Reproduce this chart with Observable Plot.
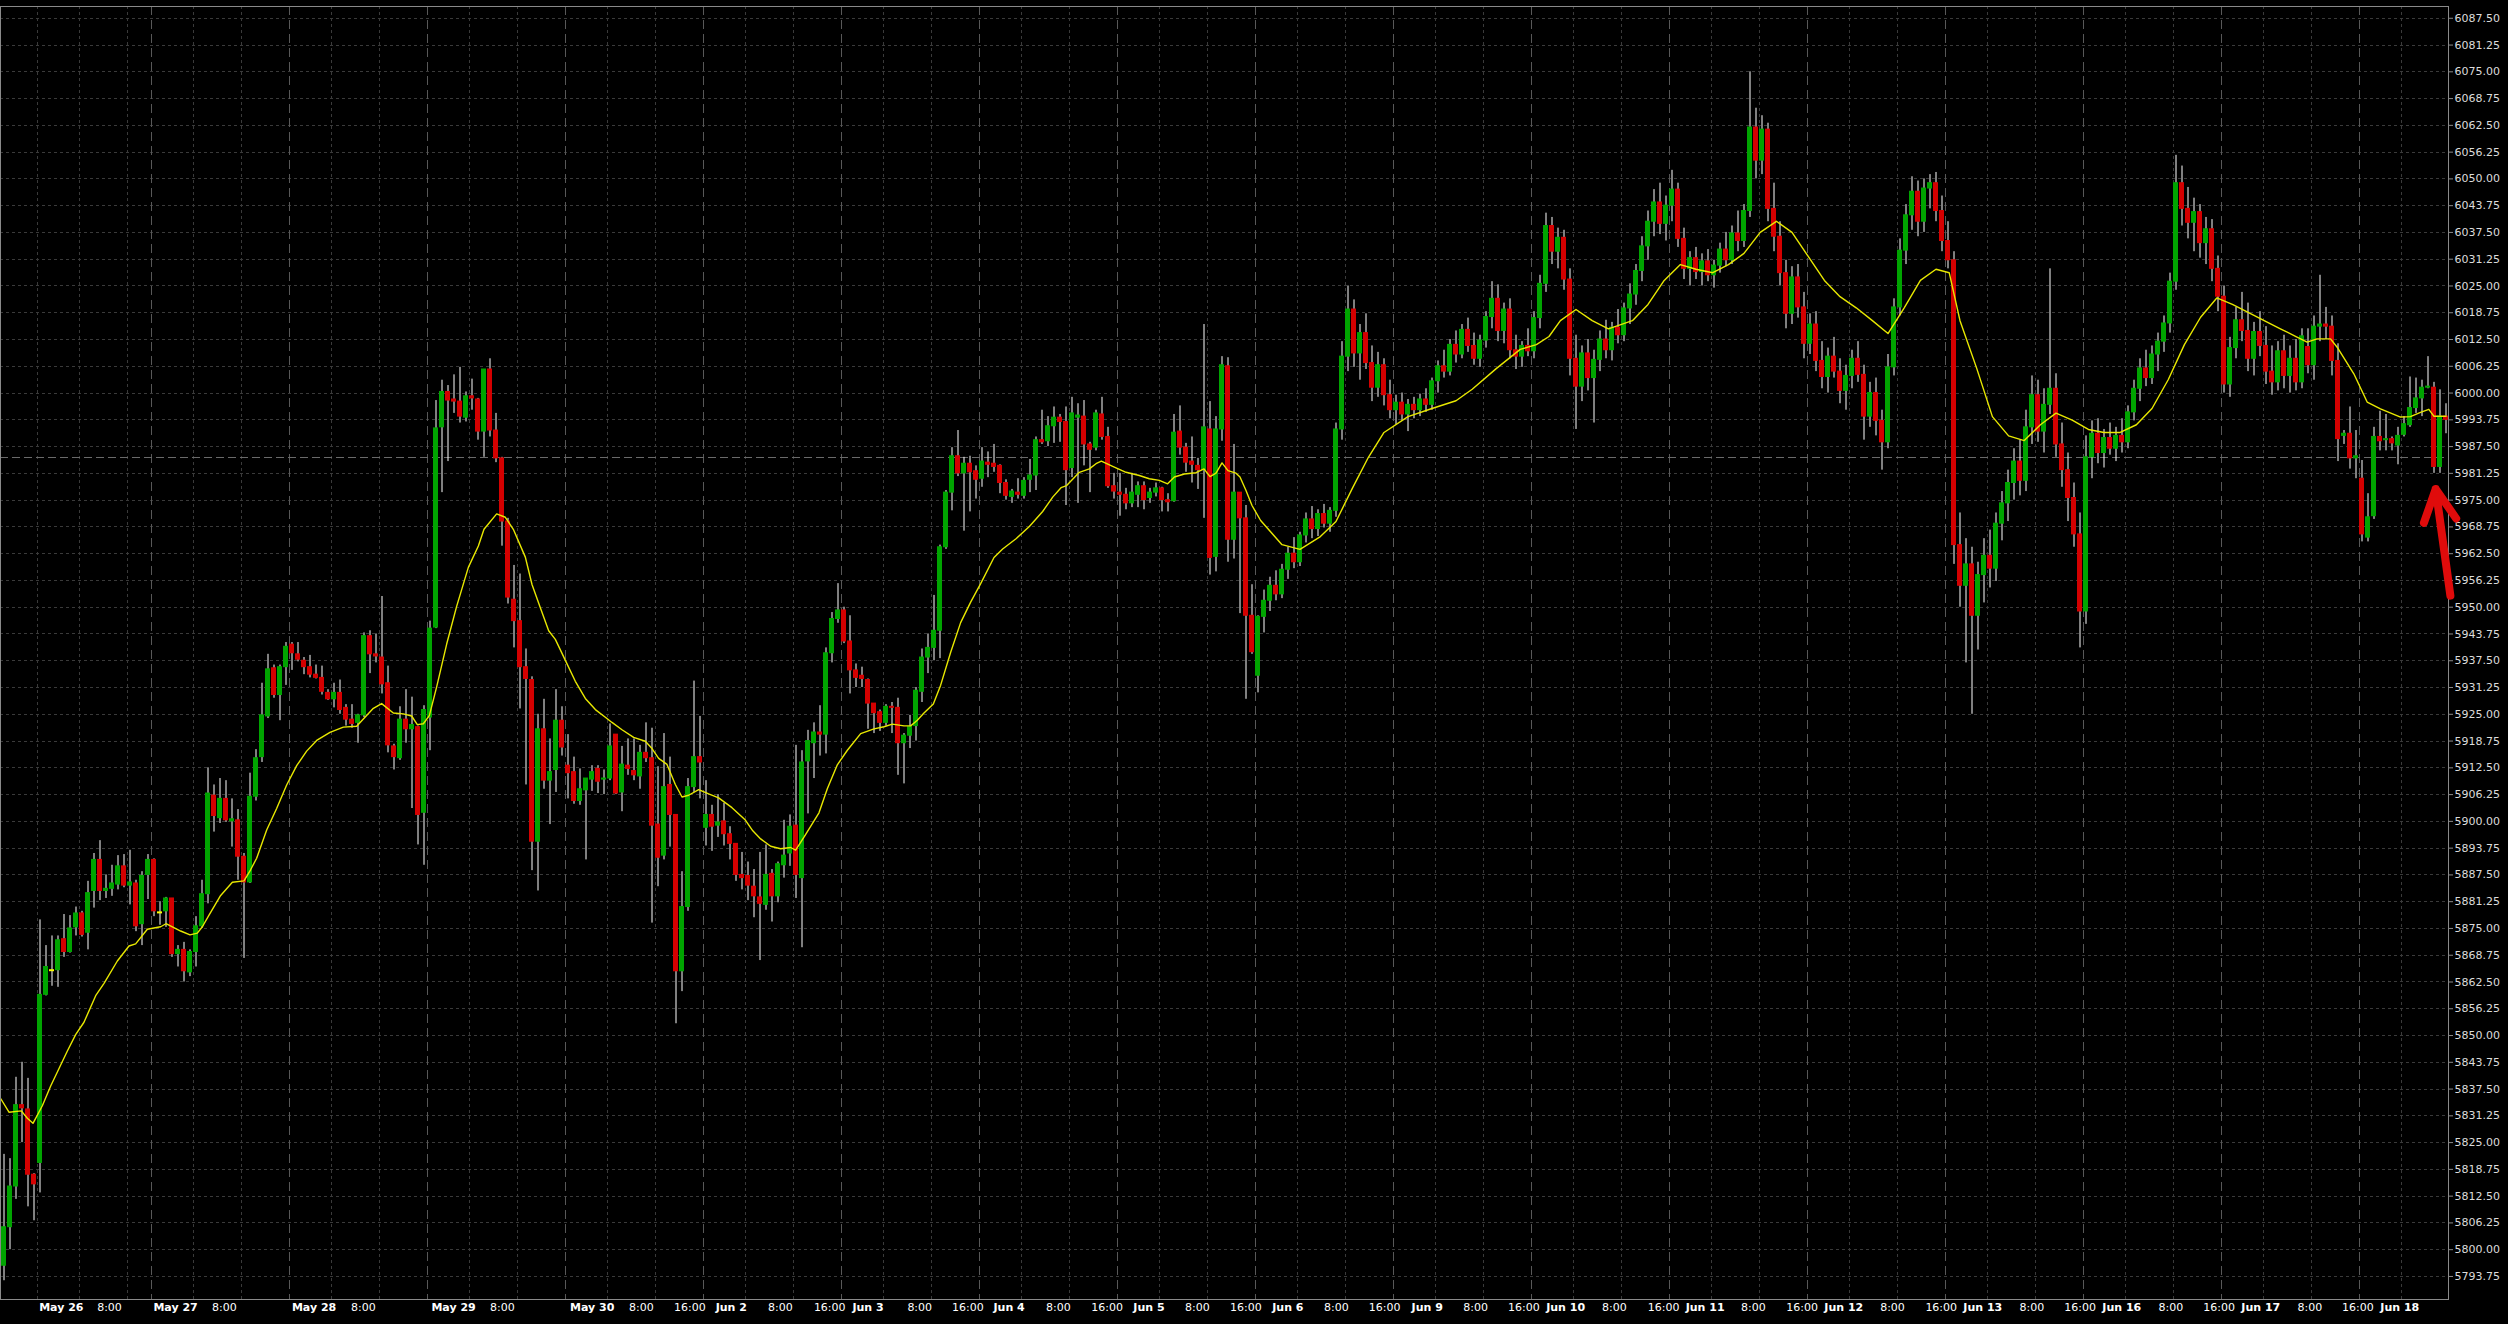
<!DOCTYPE html>
<html><head><meta charset="utf-8">
<script src="https://cdn.jsdelivr.net/npm/d3@7"></script>
<script src="https://cdn.jsdelivr.net/npm/@observablehq/plot@0.6"></script>
<style>
html,body{margin:0;padding:0;background:#000;overflow:hidden}
#chart{width:2508px;height:1324px}
</style></head><body><div id="chart"></div>
<script>
const opens = [
5796.25,5805.25,5814.75,5833.75,5832.75,5817.5,5820.25,5859.5,5865.25,5865.25,
5872.5,5869.5,5875.25,5878.5,5874.0,5883.75,5891.0,5883.75,5884.25,5885.25,
5889.5,5885.0,5885.5,5876.0,5887.5,5891.0,5878.75,5879.0,5882.0,5869.0,
5870.0,5864.75,5869.5,5875.5,5883.0,5906.0,5900.75,5905.25,5900.0,5900.25,
5891.75,5885.75,5905.75,5915.0,5924.5,5935.75,5929.5,5936.0,5941.25,5939.0,
5937.5,5936.0,5934.25,5933.5,5930.0,5928.5,5930.0,5926.5,5923.75,5923.0,
5924.75,5943.25,5939.0,5938.25,5932.25,5917.5,5914.75,5923.75,5921.5,5922.0,
5902.0,5924.25,5945.25,5992.0,6000.25,5998.5,5998.0,5994.25,5999.25,5998.5,
5991.0,6005.5,5991.25,5984.75,5970.0,5951.75,5946.75,5936.0,5933.0,5895.25,
5921.5,5909.5,5912.0,5923.5,5913.0,5911.5,5904.75,5907.25,5909.75,5912.25,
5909.75,5910.0,5920.25,5906.75,5913.0,5911.75,5910.5,5916.0,5914.75,5899.25,
5892.0,5908.5,5901.5,5865.0,5880.0,5908.0,5915.0,5898.5,5901.5,5899.0,
5900.0,5897.0,5894.75,5887.5,5887.25,5884.75,5882.25,5880.5,5887.75,5882.5,
5889.75,5892.5,5899.0,5886.75,5914.0,5918.25,5920.75,5920.25,5939.25,5947.25,
5949.25,5942.0,5935.25,5934.0,5933.0,5927.5,5925.5,5923.0,5926.75,5926.5,
5918.25,5920.0,5922.25,5930.25,5938.25,5940.5,5944.5,5964.0,5976.75,5985.25,
5981.25,5983.5,5981.75,5980.0,5983.75,5983.5,5983.0,5979.0,5975.75,5976.75,
5976.0,5979.75,5980.75,5989.0,5988.75,5992.25,5994.25,5993.25,5982.5,5994.25,
5994.5,5988.0,5987.25,5995.0,5989.75,5978.25,5976.75,5976.25,5974.25,5976.25,
5978.25,5975.5,5976.75,5977.75,5975.0,5974.75,5991.0,5987.25,5984.0,5983.0,
5982.0,5991.5,5961.75,5991.5,6006.25,5965.75,5976.75,5970.75,5948.0,5934.0,
5947.75,5951.5,5955.0,5953.0,5958.75,5962.5,5960.5,5966.75,5970.5,5968.25,
5971.75,5969.5,5972.5,5991.5,6008.5,6019.5,6009.25,6014.0,6007.0,6001.25,
6006.5,5999.5,5996.0,5997.75,5995.0,5997.25,5996.0,5998.5,5997.25,6002.75,
6006.25,6005.0,6011.25,6009.0,6014.75,6011.0,6008.0,6012.25,6017.75,6022.0,
6014.5,6019.5,6010.0,6008.5,6011.0,6009.75,6017.5,6025.5,6039.0,6033.0,
6036.25,6026.5,6008.0,6001.5,6009.25,6003.5,6007.75,6012.5,6010.0,6015.25,
6013.5,6019.75,6023.0,6028.5,6034.25,6040.0,6044.5,6039.5,6043.75,6047.5,
6036.0,6029.0,6031.5,6028.25,6030.75,6027.5,6029.75,6033.5,6031.0,6037.25,
6035.5,6042.5,6062.0,6054.25,6061.5,6043.0,6036.5,6028.0,6018.5,6027.0,
6020.0,6011.5,6016.0,6007.5,6003.75,6008.5,6005.0,6000.5,6004.0,6008.0,
6004.25,5994.5,6000.0,5993.5,5988.5,6006.0,6020.0,6033.25,6041.5,6047.0,
6040.0,6047.75,6049.0,6042.5,6035.5,6031.0,5964.5,5955.0,5960.0,5948.0,
5957.5,5962.0,5959.0,5969.5,5974.25,5979.0,5984.0,5979.5,5992.0,5999.5,
5991.0,5997.25,6001.0,5988.0,5982.0,5975.5,5967.0,5949.0,5985.0,5990.5,
5986.0,5989.5,5987.0,5990.0,5988.5,5995.5,6001.0,6005.75,6003.5,6009.0,
6012.0,6016.25,6026.0,6049.0,6043.0,6039.75,6042.25,6035.0,6038.25,6029.0,
6022.5,6002.0,6010.5,6017.0,6014.5,6008.0,6014.25,6011.0,6005.0,6002.5,
6009.75,6004.0,6008.0,6002.5,6010.75,6006.5,6015.5,6016.0,6015.5,6007.5,
5990.0,5990.5,5984.75,5980.0,5966.25,5971.25,5989.75,5989.0,5989.25,5987.75,
5990.25,5992.5,5996.5,5998.75,6001.25,6001.25,5982.75,5994.5
];
const highs = [
5822.25,5821.25,5840.25,5843.75,5840.0,5817.75,5877.0,5871.0,5873.25,5873.25,
5878.25,5878.0,5880.0,5879.0,5886.0,5892.5,5895.5,5887.5,5889.75,5892.0,
5892.25,5893.25,5886.25,5888.25,5892.25,5891.25,5881.25,5882.25,5882.0,5871.0,
5871.75,5870.0,5877.75,5886.25,5912.5,5908.5,5910.0,5909.5,5905.25,5902.75,
5892.5,5911.25,5916.75,5932.25,5939.0,5936.5,5936.5,5941.75,5941.75,5941.75,
5938.25,5938.75,5936.5,5936.25,5930.75,5932.25,5933.0,5927.25,5927.25,5925.0,
5944.0,5944.5,5943.75,5952.5,5936.25,5918.0,5926.75,5930.75,5929.0,5922.25,
5927.0,5946.75,5998.25,6003.0,6001.75,6004.25,6006.0,6000.25,6003.25,5998.75,
6005.5,6008.0,5995.25,5985.0,5970.75,5959.75,5957.75,5940.25,5933.75,5925.0,
5928.5,5919.25,5930.75,5926.75,5920.25,5915.0,5912.25,5910.0,5913.0,5913.0,
5912.0,5922.75,5920.25,5917.5,5919.25,5919.25,5917.75,5923.0,5921.75,5912.75,
5920.5,5915.0,5901.5,5888.25,5910.0,5932.75,5924.5,5909.5,5903.75,5906.25,
5904.25,5898.75,5894.75,5892.75,5890.5,5888.75,5892.75,5894.5,5888.75,5890.5,
5900.25,5901.5,5917.75,5916.5,5921.25,5923.0,5927.0,5940.5,5948.75,5955.5,
5950.0,5948.0,5936.75,5936.0,5933.25,5927.5,5926.0,5927.25,5927.75,5928.75,
5920.5,5924.75,5931.25,5940.25,5943.75,5952.75,5964.5,5977.25,5987.25,5991.25,
5985.0,5985.25,5983.0,5987.25,5986.25,5988.0,5983.25,5979.75,5977.5,5980.0,
5980.25,5984.5,5989.75,5996.0,5994.5,5996.75,5995.0,5996.75,5999.0,5997.5,
5998.25,5988.5,5996.0,5999.0,5992.0,5981.25,5981.25,5977.75,5981.25,5979.25,
5979.25,5977.75,5979.0,5978.0,5976.5,5995.0,5997.0,5988.25,5989.75,5984.75,
6016.0,5998.0,5994.5,6008.5,6008.25,5988.0,5976.75,5973.75,5955.25,5948.0,
5954.0,5957.0,5958.5,5960.0,5964.0,5966.25,5967.5,5972.0,5973.5,5972.75,
5974.0,5973.25,5993.0,6012.0,6025.0,6021.75,6016.0,6018.5,6011.0,6009.5,
6008.0,6003.0,5999.5,6000.0,5998.5,5999.0,5999.75,6001.0,6003.5,6007.5,
6010.0,6012.5,6014.5,6016.0,6017.5,6014.0,6013.5,6019.0,6026.0,6025.25,
6021.0,6022.0,6013.5,6012.0,6015.0,6019.0,6027.5,6042.0,6041.0,6038.5,
6038.0,6029.0,6013.5,6011.0,6012.5,6010.0,6014.5,6017.0,6016.5,6019.5,
6021.0,6025.5,6030.0,6036.5,6042.5,6047.5,6049.0,6046.0,6052.0,6049.0,
6038.5,6033.0,6034.0,6032.5,6033.5,6031.0,6035.0,6037.5,6039.0,6042.5,
6044.0,6075.0,6066.5,6064.75,6063.0,6049.0,6040.0,6031.0,6029.5,6030.0,
6023.5,6018.5,6019.0,6012.0,6010.5,6013.0,6008.0,6006.5,6010.0,6012.0,
6006.5,6002.5,6003.5,5996.0,6009.0,6022.0,6036.0,6044.0,6050.5,6049.5,
6050.0,6051.0,6051.5,6046.0,6040.0,6033.0,5972.0,5966.0,5964.0,5960.5,
5966.0,5968.0,5972.0,5977.0,5982.0,5987.0,5989.0,5996.0,6004.0,6003.0,
6001.0,6029.0,6004.5,5993.0,5986.0,5979.0,5972.0,5990.0,5993.5,5994.0,
5991.5,5993.0,5992.0,5994.0,5997.0,6003.0,6008.0,6010.0,6011.0,6014.0,
6018.0,6028.0,6055.5,6053.0,6048.0,6045.5,6044.0,6041.0,6040.5,6032.0,
6025.0,6013.0,6020.0,6023.5,6021.0,6016.5,6019.0,6015.5,6011.0,6012.0,
6013.5,6011.0,6012.5,6015.0,6015.0,6018.0,6027.5,6020.0,6018.0,6011.5,
5991.25,5996.75,5991.25,5984.25,5976.5,5992.0,5995.75,5995.0,5989.75,5992.0,
5994.5,6003.75,6003.5,6003.0,6008.5,6002.5,6000.75,5997.5
];
const lows = [
5792.75,5800.0,5811.75,5825.0,5810.0,5806.75,5813.25,5859.25,5861.5,5861.25,
5868.25,5869.25,5873.25,5873.0,5870.0,5879.75,5881.5,5882.0,5882.5,5884.0,
5884.5,5880.5,5874.25,5871.0,5881.75,5877.75,5875.75,5875.25,5868.25,5866.0,
5862.5,5863.75,5866.0,5875.0,5880.75,5897.5,5899.5,5899.75,5894.0,5886.25,
5868.0,5885.5,5904.75,5913.75,5924.0,5928.75,5923.5,5931.75,5935.25,5937.25,
5934.25,5933.5,5933.25,5929.5,5928.25,5926.5,5925.0,5922.25,5921.75,5918.25,
5924.25,5934.5,5937.0,5929.75,5916.0,5912.0,5914.25,5918.25,5903.0,5894.5,
5889.75,5916.5,5945.0,5976.75,5984.0,5995.25,5993.0,5993.25,5996.0,5989.0,
5985.0,5989.75,5983.75,5964.25,5950.75,5940.5,5926.25,5908.5,5888.5,5883.75,
5907.5,5899.25,5906.75,5915.25,5905.25,5904.0,5903.75,5891.0,5907.0,5906.5,
5906.25,5909.5,5906.25,5902.25,5910.75,5909.5,5907.5,5913.75,5876.25,5884.75,
5891.0,5894.0,5852.75,5860.25,5879.0,5906.75,5905.25,5894.25,5893.0,5896.25,
5894.25,5891.0,5886.0,5884.0,5881.5,5877.5,5867.5,5879.25,5876.5,5881.0,
5886.75,5889.5,5882.0,5870.5,5901.75,5910.0,5915.25,5915.75,5937.0,5946.25,
5941.5,5929.75,5931.25,5931.25,5921.5,5920.5,5921.0,5922.25,5920.5,5910.75,
5908.75,5917.0,5918.75,5927.75,5934.5,5937.5,5938.0,5963.5,5972.5,5980.5,
5967.75,5972.25,5975.25,5978.0,5980.25,5981.5,5976.5,5975.0,5974.25,5975.25,
5975.25,5976.75,5977.25,5988.0,5987.5,5988.25,5988.5,5973.75,5980.25,5974.25,
5983.0,5976.75,5986.5,5989.0,5977.75,5975.25,5971.25,5972.75,5973.25,5973.25,
5972.75,5974.25,5975.75,5972.25,5972.25,5974.5,5985.5,5981.5,5979.0,5977.5,
5970.75,5957.5,5958.25,5988.75,5960.5,5961.25,5948.5,5928.5,5939.0,5930.0,
5944.0,5949.0,5951.5,5952.0,5956.5,5959.0,5959.5,5965.0,5966.0,5966.5,
5968.5,5967.5,5971.0,5989.0,6005.0,6006.0,6003.0,6005.5,5998.0,5999.0,
5997.0,5994.0,5992.5,5993.5,5991.0,5994.0,5994.5,5995.5,5996.0,6000.0,
6003.5,6004.0,6007.0,6008.0,6009.5,6006.5,6006.0,6010.5,6015.0,6012.0,
6011.5,6008.0,6005.5,6006.0,6008.5,6008.0,6015.0,6023.5,6030.0,6029.0,
6024.0,6004.0,5991.5,5998.0,6000.5,5993.0,6005.0,6008.0,6007.5,6011.5,
6012.0,6016.0,6020.5,6026.0,6031.0,6036.5,6037.0,6035.5,6040.0,6034.0,
6026.5,6025.0,6026.5,6025.0,6026.0,6024.5,6028.0,6029.5,6030.0,6033.0,
6034.0,6041.0,6050.0,6051.0,6040.0,6033.0,6025.0,6015.0,6016.0,6017.5,
6008.0,6009.0,6005.0,6001.0,6000.0,6003.5,5997.5,5996.0,6001.0,6002.5,
5989.0,5992.0,5990.0,5982.0,5987.0,6004.0,6018.0,6030.0,6038.0,6036.5,
6037.5,6043.0,6040.0,6033.0,6029.0,5960.0,5950.0,5937.0,5925.0,5940.0,
5951.0,5954.5,5956.0,5965.5,5970.0,5975.0,5976.0,5977.0,5988.0,5988.5,
5986.0,5995.0,5985.0,5978.0,5970.0,5964.0,5940.5,5946.0,5980.0,5983.5,
5982.5,5985.5,5984.0,5986.0,5987.0,5993.5,5998.0,6001.5,6002.0,6005.0,
6009.5,6014.0,6024.0,6039.0,6036.0,6033.0,6031.5,6030.0,6026.0,6019.0,
6000.0,5999.0,6008.0,6012.0,6005.0,6004.0,6008.5,6002.0,5999.5,6000.5,
6001.0,6000.0,6000.5,6001.0,6004.5,6003.0,6012.0,6012.5,6004.0,5984.0,
5988.0,5982.25,5980.0,5965.25,5965.25,5970.5,5986.5,5986.5,5986.5,5983.25,
5989.75,5992.0,5995.25,5994.5,6001.0,5981.25,5981.25,5990.5
];
const closes = [
5805.25,5814.75,5833.75,5833.0,5817.5,5815.25,5859.5,5866.0,5865.25,5872.25,
5869.5,5875.0,5878.5,5873.5,5883.25,5891.0,5883.75,5884.25,5885.5,5889.5,
5885.0,5885.75,5875.5,5887.25,5891.0,5879.0,5878.75,5882.0,5869.0,5870.0,
5865.0,5869.5,5875.5,5883.0,5906.5,5901.25,5905.25,5900.25,5900.5,5891.75,
5885.75,5905.75,5914.75,5924.75,5935.5,5929.5,5936.0,5940.75,5939.25,5937.75,
5936.0,5934.25,5933.5,5930.25,5928.5,5930.0,5926.0,5923.75,5922.75,5924.75,
5943.25,5939.0,5938.5,5932.0,5917.75,5915.0,5923.75,5921.5,5922.5,5901.5,
5926.0,5945.0,5991.75,6000.25,5998.25,5998.0,5994.5,5999.25,5998.75,5991.0,
6005.5,5991.25,5984.75,5970.0,5952.25,5946.75,5936.0,5933.25,5895.25,5921.5,
5909.5,5911.5,5923.5,5917.25,5911.25,5904.75,5907.5,5910.0,5911.5,5909.25,
5910.0,5917.5,5906.5,5913.25,5912.25,5910.75,5916.0,5914.75,5899.0,5891.5,
5908.0,5901.5,5865.0,5880.0,5908.0,5915.0,5913.75,5901.5,5898.75,5899.75,
5897.0,5894.75,5887.5,5886.75,5885.0,5882.5,5880.75,5887.5,5882.5,5890.0,
5892.0,5898.75,5887.5,5913.75,5918.75,5920.75,5920.25,5939.25,5947.25,5949.25,
5942.0,5935.25,5933.5,5933.25,5927.5,5925.25,5923.0,5926.75,5926.5,5918.25,
5920.0,5922.0,5930.5,5938.25,5940.5,5944.5,5964.0,5976.75,5985.25,5981.25,
5983.5,5981.5,5979.75,5984.0,5983.25,5982.75,5979.0,5976.0,5977.0,5976.25,
5979.5,5980.75,5989.0,5988.5,5992.25,5994.25,5993.25,5982.0,5995.25,5994.75,
5988.0,5986.75,5995.25,5989.75,5978.25,5977.0,5976.25,5974.25,5976.75,5978.25,
5975.0,5976.75,5977.75,5975.0,5974.5,5990.75,5987.25,5983.75,5983.25,5982.0,
5992.0,5961.5,5991.5,6006.5,5965.75,5976.75,5970.75,5948.0,5939.5,5947.75,
5951.5,5955.0,5953.0,5958.75,5962.5,5960.5,5966.75,5970.5,5968.25,5971.75,
5969.5,5972.5,5991.5,6008.5,6019.5,6009.25,6014.0,6007.0,6001.25,6006.5,
5999.5,5996.0,5997.75,5995.0,5997.25,5996.0,5998.5,5997.25,6002.75,6006.25,
6005.0,6011.25,6009.0,6014.75,6011.0,6008.0,6012.25,6017.75,6022.0,6014.5,
6019.5,6010.0,6008.5,6011.0,6009.75,6017.5,6025.5,6039.0,6033.0,6036.25,
6026.5,6008.0,6001.5,6009.25,6003.5,6007.75,6012.5,6010.0,6015.25,6013.5,
6019.75,6023.0,6028.5,6034.25,6040.0,6044.5,6039.5,6043.75,6047.5,6036.0,
6029.0,6031.5,6028.25,6030.75,6027.5,6029.75,6033.5,6031.0,6037.25,6035.5,
6042.5,6062.0,6054.25,6061.5,6043.0,6036.5,6028.0,6018.5,6027.0,6020.0,
6011.5,6016.0,6007.5,6003.75,6008.5,6005.0,6000.5,6004.0,6008.0,6004.25,
5994.5,6000.0,5993.5,5988.5,6006.0,6020.0,6033.25,6041.5,6047.0,6040.0,
6047.75,6049.0,6042.5,6035.5,6031.0,5964.5,5955.0,5960.0,5948.0,5957.5,
5962.0,5959.0,5969.5,5974.25,5979.0,5984.0,5979.5,5992.0,5999.5,5991.0,
5997.25,6001.0,5988.0,5982.0,5975.5,5967.0,5949.0,5985.0,5990.5,5986.0,
5989.5,5987.0,5990.0,5988.5,5995.5,6001.0,6005.75,6003.5,6009.0,6012.0,
6016.25,6026.0,6049.0,6043.0,6039.75,6042.25,6035.0,6038.25,6029.0,6022.5,
6002.0,6010.5,6017.0,6014.5,6008.0,6014.25,6011.0,6005.0,6002.5,6009.75,
6004.0,6008.0,6002.5,6013.25,6006.5,6015.5,6016.0,6015.5,6007.5,5989.25,
5990.5,5984.75,5985.25,5967.0,5971.0,5989.75,5988.75,5989.25,5988.25,5990.0,
5992.75,5996.5,5998.75,6001.25,6001.5,5982.75,5994.5,5993.75
];
// moving average line (bar index, price)
const maIndex = [-0.56,0.83,2.89,3.89,4.83,6.39,7.78,9.17,10.56,11.94,13.33,15.28,16.67,18.89,20.83,21.94,23.89,26.11,27,29.44,31,32.22,33.06,34.17,36.11,38.06,40,41.1,
42.11,43.78,45.44,47.11,48.78,50.44,52.11,54.33,56.56,58.78,59.89,61.56,62.94,64.89,66.56,67.94,68.89,69.89,70.89,72.11,73.78,75.44,77.39,79.06,80,82.11,
83.56,84.94,86.89,88,89.39,90.78,91.89,93.56,95.22,96.89,98.56,100.22,101.33,103,104.94,106.89,108,109.11,110.5,111.89,113,114.11,115.78,117.44,119.11,121.33,123.56,124.8,
126.11,127.78,129.44,131.11,131.94,133.33,135.83,137.22,138.89,140.56,142.78,145,146.67,148.06,150,151.11,152.22,153.33,154.89,156.11,157.78,159.44,161.11,162.78,165,
166.44,168.67,170.89,173.11,174.78,176.17,177.11,179.22,180.89,182,182.89,184.78,187,189.22,190.89,192.56,193.94,195.06,196.72,198.67,200,201,202,203,204,205.33,206,207,208,209.44,
213,216,219.4,222,224.7,227.4,230,234,238,242,244.7,248.7,252.7,255.4,257.5,259.4,262,264.7,267.4,271.4,274,276.7,279.4,282,284.8,287.4,290,292.7,295.4,298,300.7,303.4,306,308.7,311.4,314,316.7,319.4,322,324.2,
326,328.8,331.4,334.1,336.7,339.4,342,344.7,347.4,350,352.7,355.4,358,360.7,363.4,366.1,368.8,371.4,374.1,376.7,379.4,382,383.86,385.5,387.75,388.86,391.64,393.86,396.08,399.42,401.08,402.75,404.14,404.97,407.03];
const maValue = [5835.3,5832.1,5832.4,5830.7,5829.5,5833.6,5838.2,5842.3,5846.4,5850.2,5853.1,5859.3,5862.2,5867.4,5870.9,5871.4,5874.8,5875.4,5876.1,5874.4,5873.5,5873.9,5875.4,5878.1,5882.7,5885.8,5886.1,5888.7,
5891.4,5898.0,5903.0,5908.5,5913.0,5916.4,5918.9,5920.8,5922.0,5922.2,5923.9,5926.4,5927.5,5925.3,5925.1,5924.6,5922.6,5922.8,5924.7,5931.4,5941.4,5950.2,5959.3,5964.3,5968.2,5971.8,
5971.0,5968.05,5961.7,5955.3,5949.9,5944.5,5942.5,5937.6,5932.7,5928.7,5926.1,5924.3,5923.1,5921.4,5919.6,5918.7,5917.0,5914.7,5913.3,5908.6,5905.7,5906.1,5907.4,5906.4,5905.5,5903.2,5900.3,5897.8,
5895.9,5894.2,5893.6,5893.9,5893.3,5896.3,5902.0,5907.6,5913.2,5916.6,5920.5,5921.6,5922.1,5922.7,5922.3,5922.3,5923.6,5925.3,5927.4,5931.8,5939.5,5946.4,5951.2,5955.5,5961.6,
5963.6,5966.0,5968.85,5972.35,5975.7,5977.9,5978.4,5981.5,5982.3,5983.5,5984.1,5982.9,5981.5,5980.75,5980.0,5979.6,5978.8,5980.4,5981.1,5981.4,5982.3,5980.5,5981.3,5983.7,5981.9,5981.3,5980.4,5977.25,5973.75,5970.25,
5964.6,5963.5,5966.5,5970.0,5977.7,5985.0,5990.8,5994.5,5996.4,5998.2,6000.9,6005.7,6010.2,6011.3,6013.2,6016.9,6019.5,6016.9,6015.0,6016.9,6020.7,6026.3,6030.0,6028.9,6028.1,6030.0,6032.6,6037.5,6040.1,6037.5,6031.9,6026.3,6022.5,6019.9,6016.9,6013.9,6019.9,6026.3,6028.9,6028.1,
6016.9,6005.7,5994.5,5990.0,5988.9,5992.6,5995.3,5993.7,5991.5,5990.8,5990.8,5992.6,5996.4,6003.1,6011.3,6017.7,6022.2,6020.7,6018.8,6016.9,6015.0,6013.2,6011.9,6012.65,6012.65,6010.7,6004.5,5997.9,5996.3,5994.4,5994.5,5995.5,5996.2,5994.6,5994.6];

const priceTicks = [5793.75,5800,5806.25,5812.5,5818.75,5825,5831.25,5837.5,5843.75,5850,5856.25,5862.5,5868.75,5875,5881.25,5887.5,5893.75,5900,5906.25,5912.5,5918.75,5925,5931.25,5937.5,5943.75,5950,5956.25,5962.5,5968.75,5975,5981.25,5987.5,5993.75,6000,6006.25,6012.5,6018.75,6025,6031.25,6037.5,6043.75,6050,6056.25,6062.5,6068.75,6075,6081.25,6087.5];
const timeLabels = ["May 26","8:00","May 27","8:00","May 28","8:00","May 29","8:00","May 30","8:00","16:00","Jun 2","8:00","16:00","Jun 3","8:00","16:00","Jun 4","8:00","16:00","Jun 5","8:00","16:00","Jun 6","8:00","16:00","Jun 9","8:00","16:00","Jun 10","8:00","16:00","Jun 11","8:00","16:00","Jun 12","8:00","16:00","Jun 13","8:00","16:00","Jun 16","8:00","16:00","Jun 17","8:00","16:00","Jun 18"];
const timeLabelAt = [9.55,17.58,28.6,36.73,51.68,59.9,74.93,83.07,98.02,106.23,114.3,121.22,129.4,137.62,144.0,152.62,160.65,167.52,175.73,183.85,190.82,198.9,206.98,213.98,222.07,230.1,237.2,245.27,253.32,260.27,268.4,276.6,283.52,291.55,299.7,306.63,314.75,322.87,329.8,337.97,346.03,352.97,361.13,369.2,376.13,384.3,392.32,399.3];
const gridBars = [5.5,12.5,20.5,31.5,39.5,54.5,62.5,77.5,85.5,100.5,108.5,123.5,131.5,146.5,154.5,169.5,177.5,192.5,200.5,215.5,223.5,238.5,246.5,261.5,269.5,284.5,292.5,307.5,315.5,330.5,338.5,353.5,361.5,376.5,384.5,399.5];
const daySeparators = [24.5,47.5,70.5,93.5,116.5,139.5,162.5,185.5,208.5,231.5,254.5,277.5,300.5,323.5,346.5,369.5,392.5];
const priceLine = [5985];
const arrowFrom = [407.73, 5952.7];
const arrowTo = [405.28, 5977.6];

const candles = opens.map((o, k) => ({i: k, open: o, high: highs[k], low: lows[k], close: closes[k]}));
const ma = maIndex.map((i, k) => ({i, v: maValue[k]}));
const labels = timeLabels.map((t, k) => ({t, at: timeLabelAt[k], date: /[A-Za-z]/.test(t)}));
const half = 2.5 / 6;

const chart = Plot.plot({
  width: 2508, height: 1324,
  marginLeft: 0, marginRight: 60, marginTop: 6, marginBottom: 25,
  style: {background: "#000", color: "#dcdcdc", fontFamily: "DejaVu Sans", fontSize: "11px"},
  x: {type: "linear", domain: [-3.5 / 6, (2448 - 3.5) / 6], axis: null},
  y: {type: "linear", domain: [5788.37, 6090.25], axis: null},
  marks: [
    Plot.ruleY(priceTicks, {stroke: "#3a3a3a", strokeDasharray: "3,3", shapeRendering: "crispEdges"}),
    Plot.ruleX(gridBars, {stroke: "#3a3a3a", strokeDasharray: "3,3", shapeRendering: "crispEdges"}),
    Plot.ruleX(daySeparators, {stroke: "#585858", strokeDasharray: "9,5", shapeRendering: "crispEdges"}),
    Plot.ruleY(priceLine, {stroke: "#6a6a6a", strokeDasharray: "8,4", shapeRendering: "crispEdges"}),
    Plot.ruleX(candles, {x: "i", y1: "low", y2: "high", stroke: "#ffffff", strokeWidth: 1}),
    Plot.rect(candles.filter(d => d.close > d.open), {x1: d => d.i - half, x2: d => d.i + half, y1: "open", y2: "close", fill: "#00a400", insetTop: -0.5, insetBottom: -0.5}),
    Plot.rect(candles.filter(d => d.close < d.open), {x1: d => d.i - half, x2: d => d.i + half, y1: "open", y2: "close", fill: "#d40000", insetTop: -0.5, insetBottom: -0.5}),
    Plot.ruleY(candles.filter(d => d.close === d.open), {y: "open", x1: d => d.i - half, x2: d => d.i + half, stroke: "#ffff00", strokeWidth: 2}),
    Plot.line(ma, {x: "i", y: "v", stroke: "#e8e800", strokeWidth: 1.4}),
    Plot.frame({stroke: "#8a8a8a"}),
    Plot.axisY({anchor: "right", ticks: priceTicks, tickSize: 4, tickPadding: 2, tickFormat: d => d.toFixed(2), stroke: "#8a8a8a", fill: "#dcdcdc", fontSize: 11, textAnchor: "start"}),
    Plot.text(labels.filter(d => d.date), {x: "at", text: "t", frameAnchor: "bottom", dy: 11, fill: "#ffffff", fontWeight: "bold", fontSize: 11}),
    Plot.text(labels.filter(d => !d.date), {x: "at", text: "t", frameAnchor: "bottom", dy: 11, fill: "#ffffff", fontSize: 11}),
    Plot.arrow([{x1: arrowFrom[0], y1: arrowFrom[1], x2: arrowTo[0], y2: arrowTo[1]}], {x1: "x1", y1: "y1", x2: "x2", y2: "y2", stroke: "#e00b0b", strokeWidth: 8, headLength: 6.75, headAngle: 54, strokeLinecap: "round", strokeLinejoin: "miter"})
  ]
});
document.getElementById("chart").appendChild(chart);
</script>
</body></html>
